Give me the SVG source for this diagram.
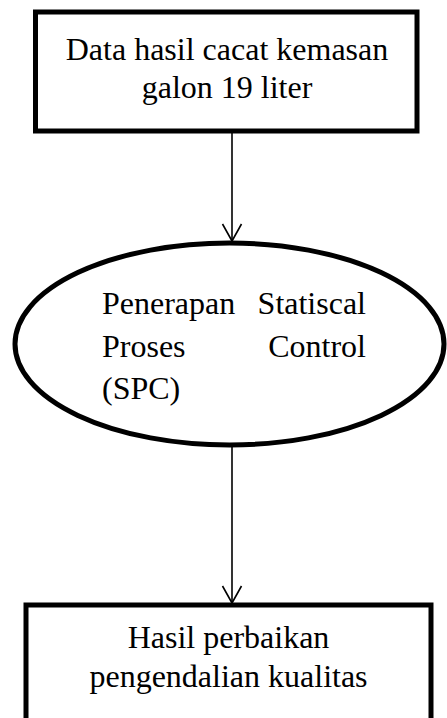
<svg xmlns="http://www.w3.org/2000/svg" width="447" height="718" viewBox="0 0 447 718">
<style>
.node{fill:#fff;stroke:#000;stroke-width:5}
text{font-family:'Liberation Serif','Times New Roman',serif;font-size:32px;fill:#000}
.c{text-anchor:middle}
.e{text-anchor:end}
.conn{stroke:#000;stroke-width:1.6;fill:none}
</style>
<rect width="447" height="718" fill="#fff"/>
<g id="connectors">
<line class="conn" x1="232" y1="133" x2="232" y2="241"/>
<path class="conn" d="M232,241 L222.5,224 M232,241 L241.5,224"/>
<line class="conn" x1="232" y1="447" x2="232" y2="603"/>
<path class="conn" d="M232,603 L222.5,586 M232,603 L241.5,586"/>
</g>
<g id="node-data">
<rect class="node" x="35.5" y="12" width="381.5" height="119"/>
<text class="c" x="227" y="60">Data hasil cacat kemasan</text>
<text class="c" x="227" y="98">galon 19 liter</text>
</g>
<g id="node-spc">
<ellipse class="node" cx="229.5" cy="344" rx="214.5" ry="101"/>
<text x="102" y="314">Penerapan</text>
<text class="e" x="366" y="314">Statiscal</text>
<text x="102" y="357">Proses</text>
<text class="e" x="366" y="357">Control</text>
<text x="102" y="399">(SPC)</text>
</g>
<g id="node-hasil">
<rect class="node" x="26" y="605" width="405" height="130"/>
<text class="c" x="228.5" y="648">Hasil perbaikan</text>
<text class="c" x="228.5" y="687">pengendalian kualitas</text>
</g>
</svg>
